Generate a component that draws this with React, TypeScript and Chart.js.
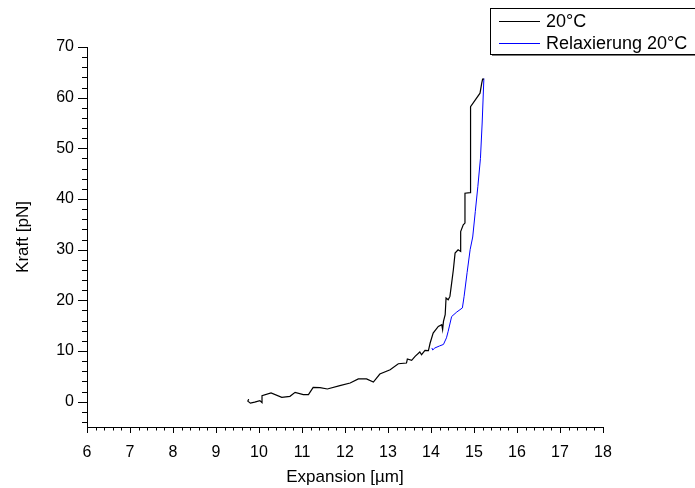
import React, { useEffect, useRef } from "react";
import { Chart, registerables } from "chart.js";

Chart.register(...registerables);

const seriesLabels = ["20°C", "Relaxierung 20°C"];
const seriesColors = ["#000000", "#0000ff"];

const blackX = [9.76, 9.74, 9.8, 9.9, 10.02, 10.07, 10.07, 10.28, 10.53, 10.72, 10.84, 11.03, 11.15, 11.26, 11.42, 11.59, 11.88, 12.12, 12.31, 12.5, 12.66, 12.81, 13.05, 13.24, 13.43, 13.45, 13.55, 13.63, 13.74, 13.78, 13.86, 13.94, 13.98, 14.05, 14.17, 14.25, 14.27, 14.29, 14.33, 14.35, 14.4, 14.44, 14.48, 14.52, 14.56, 14.63, 14.69, 14.69, 14.75, 14.79, 14.79, 14.91, 14.92, 15.14, 15.18, 15.2, 15.23];
const blackY = [0.5, 0.1, -0.3, -0.1, 0.2, -0.2, 1.2, 1.72, 0.85, 1.05, 1.83, 1.38, 1.38, 2.82, 2.76, 2.5, 3.16, 3.69, 4.48, 4.48, 3.88, 5.46, 6.31, 7.49, 7.63, 8.42, 8.14, 8.93, 9.8, 9.27, 10.12, 10.06, 11.58, 13.55, 14.85, 15.18, 14.2, 15.84, 17.16, 20.45, 20.11, 20.77, 23.4, 26.03, 29.32, 29.97, 29.64, 33.58, 34.9, 35.24, 41.15, 41.27, 58.23, 60.88, 62.85, 63.64, 63.64];

const blueX = [14.02, 14.04, 14.09, 14.2, 14.29, 14.36, 14.4, 14.48, 14.6, 14.73, 14.77, 14.84, 14.91, 14.97, 15.03, 15.09, 15.15, 15.19, 15.23];
const blueY = [10.6, 10.2, 10.6, 11.0, 11.3, 12.6, 13.9, 16.8, 17.7, 18.5, 20.8, 25.5, 30.0, 32.5, 37.5, 42.5, 48.0, 55.0, 63.8];

const xTickValues = [6, 7, 8, 9, 10, 11, 12, 13, 14, 15, 16, 17, 18];
const yTickValues = [0, 10, 20, 30, 40, 50, 60, 70];

const FONT = "'Liberation Sans', Arial, sans-serif";

const tickPlugin = {
  id: "originTicks",
  afterDraw(chart: any) {
    const ctx = chart.ctx;
    const xs = chart.scales.x;
    const ys = chart.scales.y;
    const area = chart.chartArea;
    ctx.save();
    ctx.strokeStyle = "#000";
    ctx.lineWidth = 1;
    ctx.beginPath();
    for (let i = 0; i <= 60; i++) {
      const v = 6 + i * 0.2;
      const px = Math.round(xs.getPixelForValue(v)) + 0.5;
      const len = i % 5 === 0 ? 6 : 3.5;
      ctx.moveTo(px, area.bottom);
      ctx.lineTo(px, area.bottom + len);
    }
    for (let i = 0; i <= 37; i++) {
      const v = -4 + i * 2;
      const py = Math.round(ys.getPixelForValue(v)) + 0.5;
      const len = v % 10 === 0 ? 9 : 5;
      ctx.moveTo(area.left, py);
      ctx.lineTo(area.left - len, py);
    }
    ctx.stroke();
    ctx.restore();
  },
};

const legendPlugin = {
  id: "boxLegend",
  afterDraw(chart: any) {
    const ctx = chart.ctx;
    ctx.save();
    ctx.strokeStyle = "#777";
    ctx.lineWidth = 1;
    ctx.beginPath();
    ctx.moveTo(492, 55.5);
    ctx.lineTo(700, 55.5);
    ctx.stroke();
    ctx.strokeStyle = "#000";
    ctx.strokeRect(490.5, 8.5, 220, 46);
    ctx.font = `18px ${FONT}`;
    ctx.textBaseline = "middle";
    ctx.textAlign = "left";
    const rows = [21, 43];
    chart.data.datasets.forEach((ds: any, i: number) => {
      const y = rows[i] + 0.5;
      ctx.strokeStyle = ds.borderColor;
      ctx.beginPath();
      ctx.moveTo(499, y);
      ctx.lineTo(540, y);
      ctx.stroke();
      ctx.fillStyle = "#000";
      ctx.fillText(ds.label, 546, rows[i] + 1);
    });
    ctx.restore();
  },
};

export default function App() {
  const ref = useRef<HTMLCanvasElement | null>(null);
  useEffect(() => {
    document.body.style.margin = "0";
    const canvas = ref.current;
    if (!canvas) return;
    const chart = new Chart(canvas, {
      type: "line",
      data: {
        datasets: [
          {
            label: seriesLabels[0],
            data: blackX.map((x, i) => ({ x, y: blackY[i] })),
            borderColor: seriesColors[0],
            borderWidth: 1.2,
            pointRadius: 0,
            tension: 0,
            fill: false,
          },
          {
            label: seriesLabels[1],
            data: blueX.map((x, i) => ({ x, y: blueY[i] })),
            borderColor: seriesColors[1],
            borderWidth: 1,
            pointRadius: 0,
            tension: 0,
            fill: false,
          },
        ],
      },
      options: {
        animation: false,
        responsive: false,
        devicePixelRatio: 1,
        layout: { padding: { left: 0, right: 92, top: 47, bottom: 0 } },
        plugins: { legend: { display: false }, tooltip: { enabled: false } },
        scales: {
          x: {
            type: "linear",
            min: 6,
            max: 18,
            grid: { display: false, drawTicks: true, tickLength: 6 },
            border: { display: true, color: "#000", width: 1 },
            afterBuildTicks: (s: any) => {
              s.ticks = xTickValues.map((v) => ({ value: v }));
            },
            afterFit: (s: any) => {
              s.height = 61;
            },
            ticks: {
              color: "#000",
              font: { family: FONT, size: 16 },
              padding: 10,
              maxRotation: 0,
              autoSkip: false,
            },
            title: {
              display: true,
              text: "Expansion [µm]",
              color: "#000",
              font: { family: FONT, size: 17 },
              padding: { top: 0, bottom: 0 },
            },
          },
          y: {
            type: "linear",
            min: -5,
            max: 70,
            grid: { display: false, drawTicks: true, tickLength: 9 },
            border: { display: true, color: "#000", width: 1 },
            afterBuildTicks: (s: any) => {
              s.ticks = yTickValues.map((v) => ({ value: v }));
            },
            afterFit: (s: any) => {
              s.width = 87;
            },
            ticks: {
              color: "#000",
              font: { family: FONT, size: 16 },
              padding: 4,
              autoSkip: false,
            },
            title: {
              display: true,
              text: "Kraft [pN]",
              color: "#000",
              font: { family: FONT, size: 17 },
              padding: { top: 13, bottom: 0 },
            },
          },
        },
      },
      plugins: [tickPlugin, legendPlugin],
    });
    return () => chart.destroy();
  }, []);
  return <canvas ref={ref} width={695} height={488} style={{ display: "block" }} />;
}
